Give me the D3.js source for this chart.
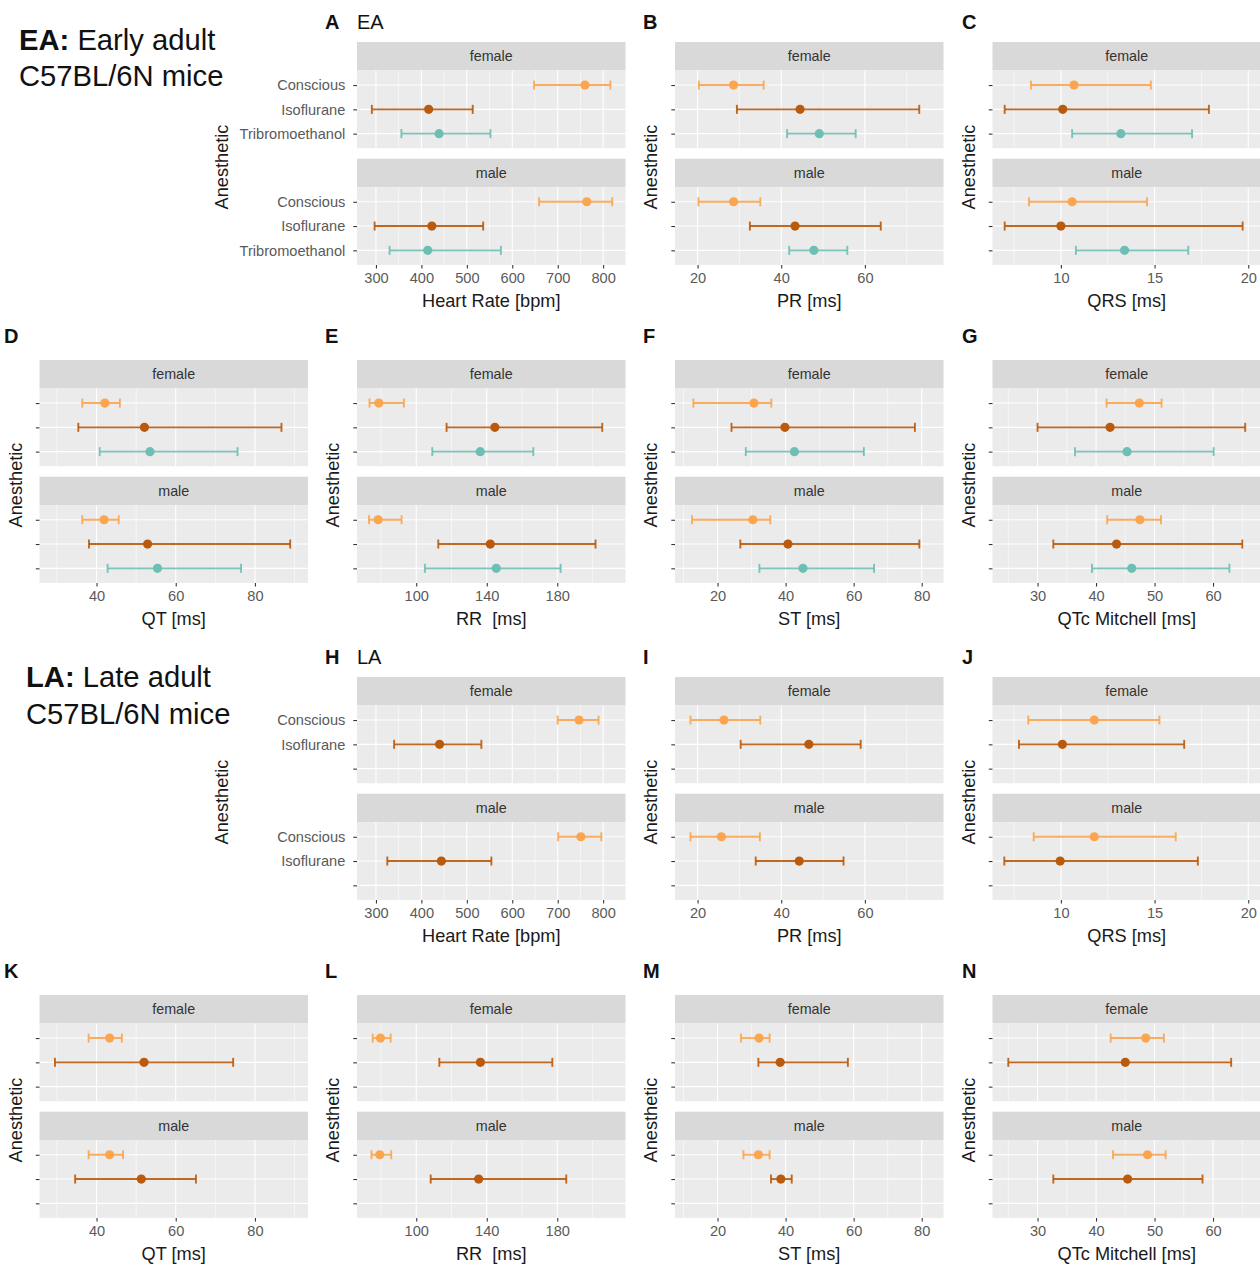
<!DOCTYPE html>
<html><head><meta charset="utf-8">
<script src="https://cdn.jsdelivr.net/npm/d3@7"></script>
<style>
body{margin:0;background:#fff;}
text{font-family:"Liberation Sans",Arial,Helvetica,sans-serif;}
</style></head>
<body>
<script>
// ---------- DATA ----------
const anesthetics = ["Conscious", "Isoflurane", "Tribromoethanol"];
const sexes = ["female", "male"];
// each entry: [lower, mean, upper]; order: female C, I, T, male C, I, T
const A_HR_EA   = [[648,760,816],[291,416,513],[356,439,552],[659,764,820],[297,423,536],[330,414,575]];
const B_PR_EA   = [[20.3,28.6,35.8],[29.4,44.5,73.0],[41.4,49.1,57.8],[20.2,28.6,35.0],[32.5,43.3,63.8],[41.9,47.8,55.8]];
const C_QRS_EA  = [[8.4,10.7,14.8],[7.0,10.1,17.9],[10.6,13.2,17.0],[8.3,10.6,14.6],[7.0,10.0,19.7],[10.8,13.4,16.8]];
const D_QT_EA   = [[36.4,42.1,45.9],[35.4,52.1,86.7],[40.8,53.5,75.6],[36.4,41.9,45.6],[38.1,52.9,88.9],[42.8,55.4,76.5]];
const E_RR_EA   = [[73.5,78.8,93.0],[117.2,144.6,205.5],[109.1,136.3,166.4],[73.2,78.4,91.7],[112.5,142.0,201.7],[104.9,145.4,181.9]];
const F_ST_EA   = [[12.9,30.7,35.8],[24.1,39.8,78.0],[28.3,42.6,63.0],[12.5,30.4,35.5],[26.7,40.7,79.3],[32.3,45.1,66.0]];
const G_QTc_EA  = [[41.8,47.4,51.2],[30.0,42.4,65.5],[36.4,45.3,60.1],[41.9,47.5,51.1],[32.7,43.5,65.0],[39.3,46.1,62.8]];
const H_HR_LA   = [[700,747,790],[340,440,532],null,[701,751,796],[325,444,554],null];
const I_PR_LA   = [[18.3,26.3,35.0],[30.3,46.6,59.0],null,[18.3,25.7,34.9],[33.9,44.3,54.9],null];
const J_QRS_LA  = [[8.26,11.78,15.26],[7.76,10.08,16.58],null,[8.55,11.78,16.13],[6.98,9.96,17.31],null];
const K_QT_LA   = [[38.0,43.3,46.4],[29.5,52.0,74.5],null,[38.0,43.3,46.7],[34.6,51.3,65.1],null];
const L_RR_LA   = [[75.3,79.7,85.5],[113.1,136.4,177.2],null,[74.6,79.3,85.8],[108.2,135.4,185.1],null];
const M_ST_LA   = [[26.9,32.2,35.3],[32.0,38.4,58.3],null,[27.6,32.0,35.3],[35.7,38.6,41.8],null];
const N_QTc_LA  = [[42.5,48.5,51.6],[25.0,45.0,63.1],null,[42.9,48.8,51.9],[32.7,45.4,58.2],null];

// tick labels (major) and minor gridline values per measure
const ticksHR  = [300,400,500,600,700,800];
const ticksPR  = [20,40,60];
const ticksQRS = [10,15,20];
const ticksQT  = [40,60,80];
const ticksRR  = [100,140,180];
const ticksST  = [20,40,60,80];
const ticksQTc = [30,40,50,60];
const minorHR  = [350,450,550,650,750];
const minorPR  = [30,50,70];
const minorQRS = [7.5,12.5,17.5];
const minorQT  = [30,50,70,90];
const minorRR  = [80,120,160,200];
const minorST  = [10,30,50,70];
const minorQTc = [25,35,45,55,65];

// ---------- LAYOUT / STYLE ----------
const colors = {Conscious:"#FCA54F", Isoflurane:"#B95A0C", Tribromoethanol:"#6DBFB6"};
const measures = {
  HR:  {domain:[258.3,849.2], ticks:ticksHR,  minor:minorHR,  title:"Heart Rate [bpm]"},
  PR:  {domain:[14.6,78.8],   ticks:ticksPR,  minor:minorPR,  title:"PR [ms]"},
  QRS: {domain:[6.35,20.68],  ticks:ticksQRS, minor:minorQRS, title:"QRS [ms]"},
  QT:  {domain:[25.6,93.4],   ticks:ticksQT,  minor:minorQT,  title:"QT [ms]"},
  RR:  {domain:[66.4,218.7],  ticks:ticksRR,  minor:minorRR,  title:"RR  [ms]"},
  ST:  {domain:[7.5,86.4],    ticks:ticksST,  minor:minorST,  title:"ST [ms]"},
  QTc: {domain:[22.3,68.2],   ticks:ticksQTc, minor:minorQTc, title:"QTc Mitchell [ms]"}
};
const panels = [
  {id:"A", row:0, col:1, m:"HR",  data:A_HR_EA,  labels:anesthetics, extra:"EA"},
  {id:"B", row:0, col:2, m:"PR",  data:B_PR_EA},
  {id:"C", row:0, col:3, m:"QRS", data:C_QRS_EA},
  {id:"D", row:1, col:0, m:"QT",  data:D_QT_EA},
  {id:"E", row:1, col:1, m:"RR",  data:E_RR_EA},
  {id:"F", row:1, col:2, m:"ST",  data:F_ST_EA},
  {id:"G", row:1, col:3, m:"QTc", data:G_QTc_EA},
  {id:"H", row:2, col:1, m:"HR",  data:H_HR_LA,  labels:["Conscious","Isoflurane",""], extra:"LA"},
  {id:"I", row:2, col:2, m:"PR",  data:I_PR_LA},
  {id:"J", row:2, col:3, m:"QRS", data:J_QRS_LA},
  {id:"K", row:3, col:0, m:"QT",  data:K_QT_LA},
  {id:"L", row:3, col:1, m:"RR",  data:L_RR_LA},
  {id:"M", row:3, col:2, m:"ST",  data:M_ST_LA},
  {id:"N", row:3, col:3, m:"QTc", data:N_QTc_LA}
];
const colX = [39.5, 357, 675, 992.5], panelW = 268.5;
const rowY = [42, 360, 677, 995];
const letterX = [4, 325, 643, 962], letterBase = [29, 343, 664, 978];
const stripH = 28.5, panelH = 77.7, gapH = 10.5;

const svg = d3.select("body").append("svg").attr("width",1260).attr("height",1267);
svg.append("rect").attr("width",1260).attr("height",1267).attr("fill","#fff");

// Titles
function bigTitle(x, y1, y2, bold, rest){
  const t = svg.append("text").attr("x",x).attr("y",y1).attr("font-size",29.2).attr("fill","#111");
  t.append("tspan").attr("font-weight","bold").text(bold);
  t.append("tspan").text(rest);
  svg.append("text").attr("x",x).attr("y",y2).attr("font-size",29.2).attr("fill","#111").text("C57BL/6N mice");
}
bigTitle(19, 50, 86, "EA:", " Early adult");
bigTitle(26, 687, 724, "LA:", " Late adult");

panels.forEach(p => {
  const M = measures[p.m];
  const x0 = colX[p.col], y0 = rowY[p.row];
  const x = d3.scaleLinear().domain(M.domain).range([x0, x0 + panelW]);
  const g = svg.append("g");
  // letter
  svg.append("text").attr("x",letterX[p.col]).attr("y",letterBase[p.row])
    .attr("font-size",20).attr("font-weight","bold").attr("fill","#111").text(p.id);
  if (p.extra) svg.append("text").attr("x",x0).attr("y",letterBase[p.row])
    .attr("font-size",20).attr("fill","#111").text(p.extra);

  sexes.forEach((sex, si) => {
    const sTop = y0 + si*(stripH + panelH + gapH);
    const pTop = sTop + stripH;
    // strip
    g.append("rect").attr("x",x0).attr("y",sTop).attr("width",panelW).attr("height",stripH).attr("fill","#D9D9D9");
    g.append("text").attr("x",x0+panelW/2).attr("y",sTop+stripH/2+5).attr("text-anchor","middle")
      .attr("font-size",14.3).attr("fill","#333").text(sex);
    // panel
    g.append("rect").attr("x",x0).attr("y",pTop).attr("width",panelW).attr("height",panelH).attr("fill","#EBEBEB");
    const y = d3.scalePoint().domain(anesthetics).range([pTop, pTop+panelH]).padding(0.6);
    // gridlines
    g.selectAll(null).data(M.minor.filter(v=>v>M.domain[0]&&v<M.domain[1])).enter().append("line")
      .attr("x1",d=>x(d)).attr("x2",d=>x(d)).attr("y1",pTop).attr("y2",pTop+panelH)
      .attr("stroke","#fff").attr("stroke-width",0.55);
    g.selectAll(null).data(M.ticks).enter().append("line")
      .attr("x1",d=>x(d)).attr("x2",d=>x(d)).attr("y1",pTop).attr("y2",pTop+panelH)
      .attr("stroke","#fff").attr("stroke-width",1.1);
    g.selectAll(null).data(anesthetics).enter().append("line")
      .attr("x1",x0).attr("x2",x0+panelW).attr("y1",d=>y(d)).attr("y2",d=>y(d))
      .attr("stroke","#fff").attr("stroke-width",1.1);
    // y axis
    const labs = p.labels || ["","",""];
    const ya = d3.axisLeft(y).tickSize(3.7).tickPadding(8).tickFormat((d,i)=>labs[i]);
    const yg = g.append("g").attr("transform",`translate(${x0},0)`).call(ya);
    yg.select(".domain").remove();
    yg.selectAll(".tick line").attr("stroke","#333").attr("stroke-width",1.07);
    yg.selectAll(".tick text").attr("font-size",14.6).attr("fill","#5a5a5a")
      .attr("font-family",'"Liberation Sans",Arial,sans-serif');
    // data
    const rows = p.data.slice(si*3, si*3+3);
    rows.forEach((r, ai) => {
      if (!r) return;
      const a = anesthetics[ai], yy = y(a), c = colors[a];
      const eb = g.append("g").attr("stroke",c).attr("stroke-width",1.9).attr("stroke-opacity",0.9);
      eb.append("line").attr("x1",x(r[0])).attr("x2",x(r[2])).attr("y1",yy).attr("y2",yy);
      eb.append("line").attr("x1",x(r[0])).attr("x2",x(r[0])).attr("y1",yy-4.5).attr("y2",yy+4.5);
      eb.append("line").attr("x1",x(r[2])).attr("x2",x(r[2])).attr("y1",yy-4.5).attr("y2",yy+4.5);
      g.append("circle").attr("cx",x(r[1])).attr("cy",yy).attr("r",4.6).attr("fill",c);
    });
    // x axis on bottom panel only
    if (si === 1) {
      const xa = d3.axisBottom(x).tickValues(M.ticks).tickSize(3.7).tickPadding(4).tickFormat(d3.format("d"));
      const xg = g.append("g").attr("transform",`translate(0,${pTop+panelH})`).call(xa);
      xg.select(".domain").remove();
      xg.selectAll(".tick line").attr("stroke","#333").attr("stroke-width",1.07);
      xg.selectAll(".tick text").attr("font-size",14.6).attr("fill","#5a5a5a")
        .attr("font-family",'"Liberation Sans",Arial,sans-serif');
      g.append("text").attr("x",x0+panelW/2).attr("y",pTop+panelH+41.6).attr("text-anchor","middle")
        .style("white-space","pre").attr("font-size",18.2).attr("fill","#1a1a1a").text(M.title);
    }
  });
  // y title
  const tx = p.labels ? x0 - 129 : x0 - 18;
  const ty = y0 + 125;
  svg.append("text").attr("transform",`translate(${tx},${ty}) rotate(-90)`).attr("text-anchor","middle")
    .attr("font-size",18.2).attr("fill","#1a1a1a").text("Anesthetic");
});
</script>
</body></html>
